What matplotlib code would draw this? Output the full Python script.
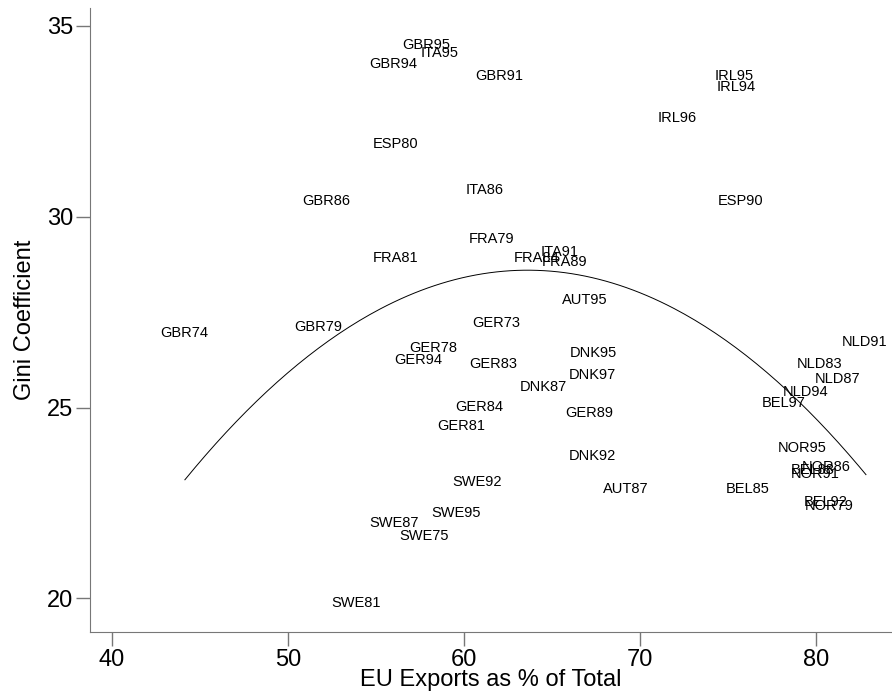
import numpy as np
import matplotlib
matplotlib.use("Agg")
import matplotlib.pyplot as plt

# country-year labels, EU export share (%), Gini coefficient
labels = ["GBR95", "ITA95", "GBR94", "GBR91", "IRL95", "IRL94", "IRL96", "ESP80",
          "ITA86", "GBR86", "ESP90", "FRA79", "ITA91", "FRA84", "FRA89", "FRA81",
          "AUT95", "GBR74", "GBR79", "GER73", "GER78", "GER94", "GER83", "DNK95",
          "DNK97", "DNK87", "GER84", "GER89", "GER81", "DNK92", "SWE92", "AUT87",
          "SWE95", "SWE87", "SWE75", "SWE81", "NLD91", "NLD83", "NLD87", "NLD94",
          "BEL97", "NOR95", "NOR86", "BEL88", "NOR91", "BEL85", "BEL92", "NOR79"]
eu_exports = [57.85, 58.61, 56.0, 62.01, 75.35, 75.46, 72.11, 56.11,
              61.16, 52.14, 75.69, 61.56, 65.42, 64.11, 65.70, 56.11,
              66.84, 44.09, 51.69, 61.84, 58.27, 57.42, 61.67, 67.35,
              67.29, 64.51, 60.88, 67.12, 59.86, 67.29, 60.71, 69.16,
              59.57, 56.0, 57.70, 53.84, 82.72, 80.17, 81.19, 79.38,
              78.13, 79.21, 80.57, 79.77, 79.94, 76.09, 80.51, 80.74]
gini = [34.50, 34.29, 34.0, 33.69, 33.69, 33.40, 32.59, 31.91,
        30.70, 30.41, 30.41, 29.42, 29.07, 28.92, 28.81, 28.92,
        27.82, 26.95, 27.11, 27.21, 26.56, 26.24, 26.14, 26.43,
        25.85, 25.53, 25.01, 24.85, 24.51, 23.73, 23.04, 22.86,
        22.23, 21.97, 21.63, 19.87, 26.71, 26.14, 25.74, 25.40,
        25.12, 23.94, 23.44, 23.36, 23.25, 22.86, 22.52, 22.41]
x_ticks = [40, 50, 60, 70, 80]
y_ticks = [20, 25, 30, 35]

# quadratic fit (vertex form)
fit_peak_x = 63.6
fit_peak_y = 28.6
fit_curv = -0.0145
fit_range = [44.14, 82.82]

plt.rcParams['font.family'] = ['Liberation Sans Narrow', 'Liberation Sans', 'DejaVu Sans']

fig = plt.figure(figsize=(8.92, 6.97), dpi=100)
ax = fig.add_axes([90 / 892, 1 - 632 / 697, 802 / 892, 624 / 697])

for lab, xv, yv in zip(labels, eu_exports, gini):
    ax.text(xv, yv, lab, ha='center', va='center', fontsize=10.5, color='black')

xs = np.linspace(fit_range[0], fit_range[1], 200)
ax.plot(xs, fit_peak_y + fit_curv * (xs - fit_peak_x) ** 2, color='black', lw=0.7)

ax.set_xlim(38.75, 84.3)
ax.set_ylim(19.12, 35.47)
ax.set_xticks(x_ticks)
ax.set_yticks(y_ticks)
for side in ['top', 'right']:
    ax.spines[side].set_visible(False)
for side in ['left', 'bottom']:
    ax.spines[side].set_color('#777777')
ax.tick_params(colors='#777777', labelcolor='black', labelsize=17, length=10, width=1, pad=2)
ax.set_xlabel('EU Exports as % of Total', fontsize=17, labelpad=-1)
ax.set_ylabel('Gini Coefficient', fontsize=17, labelpad=8)

fig.savefig('out.png', dpi=100)
